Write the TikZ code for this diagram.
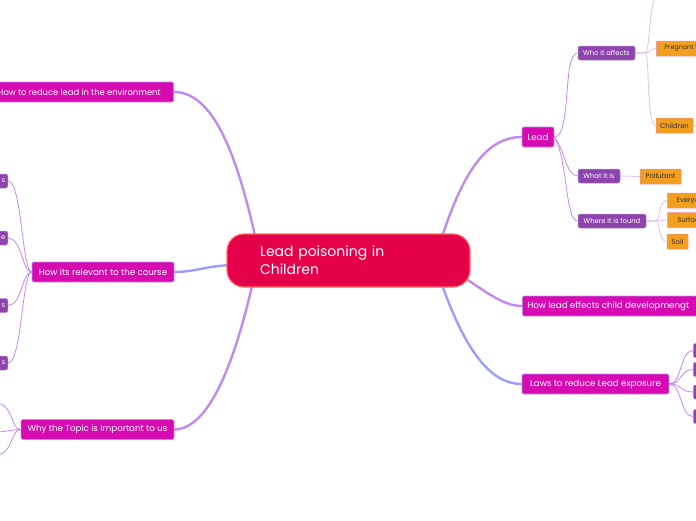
\documentclass[tikz,border=0pt]{standalone}
\usepackage{fontspec}
\setmainfont{Poppins}
\definecolor{cfill}{HTML}{E5004A}
\definecolor{cborder}{HTML}{FF6A5E}
\definecolor{mfill}{HTML}{D60AB0}
\definecolor{mborder}{HTML}{B98CF5}
\definecolor{pfill}{HTML}{8E44AD}
\definecolor{pborder}{HTML}{B78AD8}
\definecolor{ofill}{HTML}{F29E1F}
\definecolor{oborder}{HTML}{E892B0}
\definecolor{otext}{HTML}{333333}
\definecolor{lnpurple}{HTML}{C389F2}
\definecolor{lnblue}{HTML}{9D9DFF}
\definecolor{lnlight}{HTML}{E3BFF3}
\pgfdeclarelayer{edges}
\pgfsetlayers{edges,main}
\tikzset{
  centerbox/.style={draw=cborder, fill=cfill, line width=1.2pt, rounded corners=17pt, text=white,
    font=\fontsize{14}{18}\selectfont, align=left, minimum height=53pt, inner xsep=33pt, inner ysep=0pt},
  mainbox/.style={draw=mborder, fill=mfill, line width=0.6pt, rounded corners=2pt, text=white,
    font=\fontsize{8.7}{10}\selectfont, minimum height=20pt, inner sep=0pt},
  subbox/.style={draw=pborder, fill=pfill, line width=0.5pt, rounded corners=2pt, text=white,
    font=\fontsize{6.8}{8}\selectfont, minimum height=14pt, inner sep=0pt},
  edgebox/.style={subbox, text width=35pt, align=right, inner xsep=2.5pt},
  leafbox/.style={draw=oborder, fill=ofill, line width=0.5pt, rounded corners=0.5pt, text=otext,
    font=\fontsize{6.8}{8}\selectfont, minimum height=15pt, inner sep=0pt},
  thick1/.style={draw=lnpurple, line width=2.4pt, line cap=round},
  thickb/.style={draw=lnblue, line width=2.4pt, line cap=round},
  thin1/.style={draw=lnpurple, line width=0.8pt},
  thinl/.style={draw=lnlight, line width=0.8pt},
}
\begin{document}
\begin{tikzpicture}[x=1pt,y=-1pt]
\useasboundingbox (0,0) rectangle (696,520);
\begin{pgfonlayer}{edges}
\fill[white] (0,0) rectangle (696,520);
\end{pgfonlayer}

% ---------- nodes ----------
\node[centerbox, text width=177pt] (c) at (348.5,260.5) {Lead poisoning in\\Children};

\node[mainbox, minimum width=190pt, anchor=east, font=\fontsize{8.4}{10}\selectfont] (reduce) at (174,92) {\hspace*{6pt}How to reduce lead in the environment\hspace*{5pt}};
\node[mainbox, minimum width=142pt] (rel) at (103,272) {How its relevant to the course};
\node[mainbox, minimum width=153pt] (why) at (97.5,429.5) {Why the Topic is Important to us};
\node[mainbox, minimum width=32pt] (lead) at (538,137) {Lead};
\node[mainbox, minimum width=185pt, anchor=west] (eff) at (522,306) {\hspace*{5pt}How lead effects child developmengt\hspace*{20pt}};
\node[mainbox, minimum width=147pt] (laws) at (595.5,384) {Laws to reduce Lead exposure};

\node[subbox, minimum width=57pt] (who) at (606.5,53) {Who it affects};
\node[subbox, minimum width=42pt] (what) at (599,176) {What it is};
\node[subbox, minimum width=68pt] (where) at (612,221) {Where it is found};

\node[leafbox, minimum width=60pt, anchor=west, font=\fontsize{6.4}{8}\selectfont] (preg) at (656,48.5) {\hspace*{3.5pt}Pregnant W\hspace*{10pt}};
\node[leafbox, minimum width=37pt] (child) at (674.5,125.5) {Children};
\node[leafbox, minimum width=41pt] (poll) at (660.5,176.5) {Pollutant};
\node[leafbox, minimum width=50pt, anchor=west] (every) at (667,200.5) {\hspace*{4pt}Everyw\hspace*{12pt}};
\node[leafbox, minimum width=50pt, anchor=west] (surf) at (667,220) {\hspace*{4pt}Surfac\hspace*{12pt}};
\node[leafbox, minimum width=21pt] (soil) at (677.5,241.5) {Soil};

% left purple children of "relevant"
\node[edgebox, anchor=east] (r1) at (8,181) {s};
\node[edgebox, anchor=east] (r2) at (8,238) {e};
\node[edgebox, anchor=east] (r3) at (8,305.5) {s};
\node[edgebox, anchor=east] (r4) at (8,363) {s};

% right purple children of "laws"
\node[subbox, minimum width=30pt, anchor=west] (l1) at (693,350.5) {};
\node[subbox, minimum width=30pt, anchor=west] (l2) at (693,369.5) {};
\node[subbox, minimum width=30pt, anchor=west] (l3) at (693,392) {};
\node[subbox, minimum width=30pt, anchor=west] (l4) at (693,416.5) {};

% off-canvas ends and anchors on central node
\coordinate (whoUp) at (658,-15);
\coordinate (childR) at (710,125.5);
\coordinate (w1) at (-5,403);
\coordinate (w2) at (-5,432);
\coordinate (w3) at (-5,455);
\coordinate (cTL) at (256,240);
\coordinate (cL) at (232,265);
\coordinate (cBL) at (253,282);
\coordinate (cTR) at (441,240);
\coordinate (cR) at (462,276);
\coordinate (cBR) at (441,282);

% ---------- connectors ----------
\begin{pgfonlayer}{edges}
\draw[thick1] (cTL) .. controls (238,160) and (215,92) .. (reduce.east);
\draw[thickb] (cL) .. controls (205,266) and (195,272) .. (rel.east);
\draw[thick1] (cBL) .. controls (235,360) and (210,429) .. (why.east);
\draw[thick1] (cTR) .. controls (462,175) and (485,137) .. (lead.west);
\draw[thick1] (cR) .. controls (490,295) and (505,306) .. (eff.west);
\draw[thickb] (cBR) .. controls (465,350) and (490,384) .. (laws.west);

\draw[thin1] (lead.east) .. controls (572,137) and (562,53) .. (who.west);
\draw[thin1] (lead.east) .. controls (565,150) and (566,176) .. (what.west);
\draw[thin1] (lead.east) .. controls (568,160) and (565,221) .. (where.west);

\draw[thinl] (who.east) -- (645,53) .. controls (650,53) and (648,10) .. (whoUp);
\draw[thinl] (who.east) -- (645,53) .. controls (650,53) and (650,48.5) .. (preg.west);
\draw[thinl] (who.east) -- (645,53) .. controls (650,53) and (646,125.5) .. (child.west);
\draw[thinl] (child.east) -- (childR);
\draw[thinl] (what.east) -- (poll.west);
\draw[thinl] (where.east) -- (656,221) .. controls (660,221) and (658,200.5) .. (every.west);
\draw[thinl] (where.east) -- (656,221) -- (surf.west);
\draw[thinl] (where.east) -- (656,221) .. controls (660,221) and (658,241.5) .. (soil.west);

\draw[thin1] (rel.west) .. controls (22,272) and (22,181) .. (r1.east);
\draw[thin1] (rel.west) .. controls (22,272) and (22,238) .. (r2.east);
\draw[thin1] (rel.west) .. controls (22,272) and (22,305.5) .. (r3.east);
\draw[thin1] (rel.west) .. controls (22,272) and (22,363) .. (r4.east);

\draw[thin1] (why.west) .. controls (10,429.5) and (14,403) .. (w1);
\draw[thin1] (why.west) .. controls (10,430) and (5,432) .. (w2);
\draw[thin1] (why.west) .. controls (10,429.5) and (14,455) .. (w3);

\draw[thin1] (laws.east) .. controls (682,384) and (680,350.5) .. (l1.west);
\draw[thin1] (laws.east) .. controls (682,384) and (680,369.5) .. (l2.west);
\draw[thin1] (laws.east) .. controls (682,384) and (680,392) .. (l3.west);
\draw[thin1] (laws.east) .. controls (682,384) and (680,416.5) .. (l4.west);
\end{pgfonlayer}
\end{tikzpicture}
\end{document}
